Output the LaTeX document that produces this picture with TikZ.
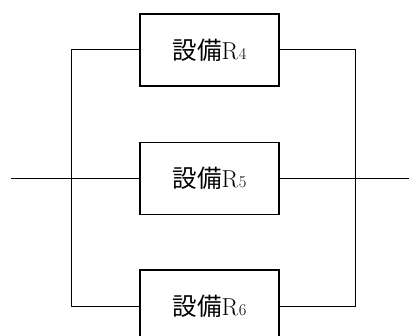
\documentclass[tikz,border=0pt]{standalone}
\usepackage{fontspec}
\newfontfamily\cjk{Noto Sans CJK JP}
\newcommand{\unitlabel}[1]{\fontsize{24.5}{28}\selectfont{\cjk 設備}R\kern0.5pt{\fontsize{16.5}{18}\selectfont #1}}
\begin{document}
\begin{tikzpicture}[x=1pt,y=-1pt,
  unitbox/.style={draw,line width=1.4pt,minimum width=139pt,minimum height=72pt,inner sep=0pt},
  wire/.style={line width=1pt}]
\useasboundingbox (0,0) rectangle (409,336);
\node[unitbox] (b4) at (209.5,50) {\unitlabel{4}};
\node[unitbox] (b5) at (209.5,178.5) {\unitlabel{5}};
\node[unitbox] (b6) at (209.5,306) {\unitlabel{6}};
\coordinate (in) at (11,178.5);
\coordinate (out) at (409,178.5);
\coordinate (lt) at (71,50);
\coordinate (lb) at (71,306);
\coordinate (rt) at (355,50);
\coordinate (rb) at (355,306);
\draw[wire] (b4.west) -- (lt) -- (lb) -- (b6.west);
\draw[wire] (b4.east) -- (rt) -- (rb) -- (b6.east);
\draw[wire] (in) -- (b5.west);
\draw[wire] (b5.east) -- (out);
\end{tikzpicture}
\end{document}
